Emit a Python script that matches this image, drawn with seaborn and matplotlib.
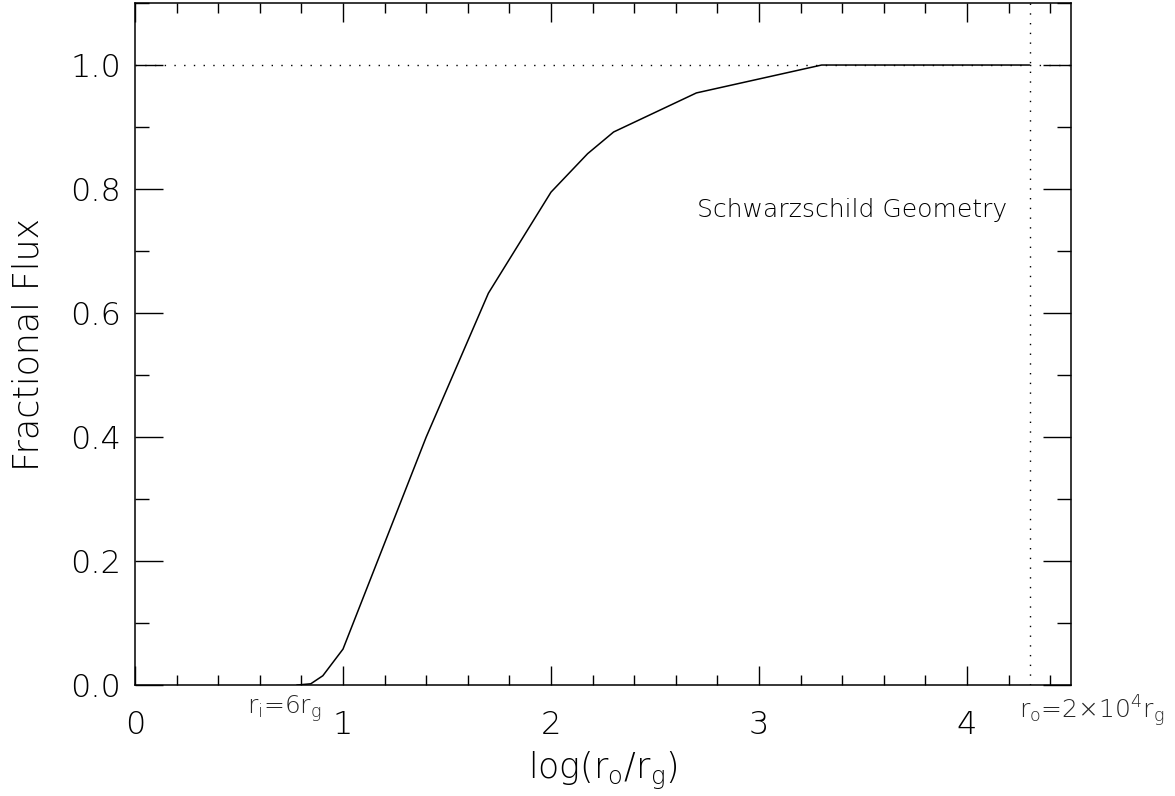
import numpy as np
import pandas as pd
import matplotlib
matplotlib.use("Agg")
import matplotlib.pyplot as plt
import seaborn as sns
from matplotlib.ticker import MultipleLocator

# Data
log_r = [0.778, 0.845, 0.903, 1.0, 1.40, 1.699, 2.0, 2.176, 2.301, 2.699, 3.301, 4.301]
flux = [0.0, 0.002, 0.015, 0.058, 0.40, 0.632, 0.795, 0.857, 0.892, 0.955, 1.0, 1.0]
x_ticks = [0, 1, 2, 3, 4]
y_ticks = [0.0, 0.2, 0.4, 0.6, 0.8, 1.0]
inner_edge = np.log10(6)
outer_edge = np.log10(2e4)

sns.set_theme(style="ticks")
FONT = "DejaVu Sans"
plt.rcParams["font.family"] = [FONT]
plt.rcParams["font.weight"] = "light"
plt.rcParams["axes.labelweight"] = "light"
plt.rcParams["mathtext.fontset"] = "custom"
plt.rcParams["mathtext.rm"] = f"{FONT}:light"
plt.rcParams["mathtext.it"] = f"{FONT}:light"

fig = plt.figure(figsize=(11.75, 7.96), dpi=100)
ax = fig.add_axes([0.1149, 0.1394, 0.7966, 0.8568])

df = pd.DataFrame({"log_r": log_r, "flux": flux})
ax.axhline(1.0, color="black", lw=1.0, ls=(0, (1, 6)))
ax.axvline(outer_edge, color="black", lw=1.0, ls=(0, (1, 6)))
sns.lineplot(data=df, x="log_r", y="flux", ax=ax, color="black", lw=1.1,
             sort=False, estimator=None)

ax.set_xlim(0, 4.5)
ax.set_ylim(0, 1.1)
ax.set_xticks(x_ticks)
ax.set_xticklabels([str(t) for t in x_ticks])
ax.set_yticks(y_ticks)
ax.set_yticklabels([f"{t:.1f}" for t in y_ticks])
ax.xaxis.set_minor_locator(MultipleLocator(0.2))
ax.yaxis.set_minor_locator(MultipleLocator(0.1))

for s in ax.spines.values():
    s.set_visible(True)
    s.set_color("black")
    s.set_linewidth(1.1)

ax.tick_params(axis="both", which="both", direction="in", top=True, right=True,
               color="black", width=1.0, labelsize=23, labelcolor="black")
ax.tick_params(axis="x", which="major", length=14, pad=18)
ax.tick_params(axis="x", which="minor", length=7)
ax.tick_params(axis="y", which="major", length=20, pad=10)
ax.tick_params(axis="y", which="minor", length=10)

ax.set_xlabel(r"log(r$_\mathrm{o}$/r$_\mathrm{g}$)", fontsize=25, labelpad=7, color="black",
              fontweight="light")
ax.set_ylabel("Fractional Flux", fontsize=25, labelpad=18, color="black", fontweight="light")

ax.text(2.70, 0.766, "Schwarzschild Geometry", fontsize=18, ha="left", va="center", color="black")

trans = matplotlib.transforms.blended_transform_factory(ax.transData, ax.transAxes)
ax.text(0.72, -0.012, r"r$_\mathrm{i}$=6r$_\mathrm{g}$", fontsize=18, ha="center", va="top",
        transform=trans, clip_on=False)
ax.text(4.60, -0.012, r"r$_\mathrm{o}$=2×10$^\mathrm{4}$r$_\mathrm{g}$", fontsize=18, ha="center",
        va="top", transform=trans, clip_on=False)

fig.savefig("out.png", dpi=100)
